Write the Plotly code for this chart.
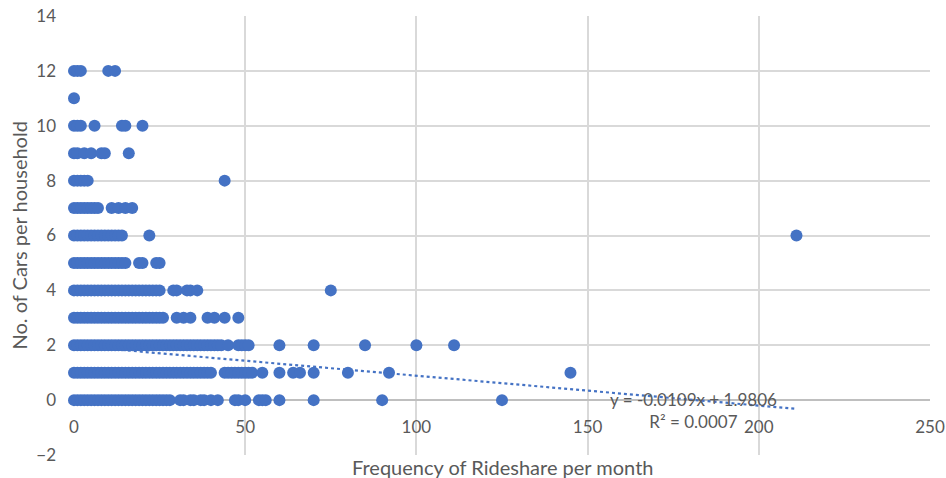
import plotly.graph_objects as go

# Number of cars per household (row value) and the rideshare frequencies seen on each row
cars = [0, 1, 2, 3, 4, 5, 6, 7, 8, 9, 10, 11, 12]

freq_0 = [0, 1, 2, 3, 4, 5, 6, 7, 8, 9, 10, 11, 12, 13, 14, 15, 16, 17, 18, 19, 20,
          21, 22, 23, 24, 25, 26, 27, 28, 31, 32, 34, 35, 37, 38, 40, 42, 47, 48, 50,
          54, 55, 56, 60, 70, 90, 125]
freq_1 = [0, 1, 2, 3, 4, 5, 6, 7, 8, 9, 10, 11, 12, 13, 14, 15, 16, 17, 18, 19, 20,
          21, 22, 23, 24, 25, 26, 27, 28, 29, 30, 31, 32, 33, 34, 35, 36, 37, 38, 39, 40,
          44, 45, 46, 47, 48, 49, 50, 51, 52, 55, 60, 64, 66, 70, 80, 92, 145]
freq_2 = [0, 1, 2, 3, 4, 5, 6, 7, 8, 9, 10, 11, 12, 13, 14, 15, 16, 17, 18, 19, 20,
          21, 22, 23, 24, 25, 26, 27, 28, 29, 30, 31, 32, 33, 34, 35, 36, 37, 38, 39, 40,
          41, 42, 43, 45, 48, 49, 50, 51, 60, 70, 85, 100, 111]
freq_3 = [0, 1, 2, 3, 4, 5, 6, 7, 8, 9, 10, 11, 12, 13, 14, 15, 16, 17, 18, 19, 20,
          21, 22, 23, 24, 25, 26, 30, 32, 34, 39, 41, 44, 48]
freq_4 = [0, 1, 2, 3, 4, 5, 6, 7, 8, 9, 10, 11, 12, 13, 14, 15, 16, 17, 18, 19, 20,
          21, 22, 23, 24, 25, 29, 30, 33, 34, 36, 75]
freq_5 = [0, 1, 2, 3, 4, 5, 6, 7, 8, 9, 10, 11, 12, 13, 14, 15, 19, 20, 24, 25]
freq_6 = [0, 1, 2, 3, 4, 5, 6, 7, 8, 9, 10, 11, 12, 13, 14, 22, 211]
freq_7 = [0, 1, 2, 3, 4, 5, 6, 7, 11, 13, 15, 17]
freq_8 = [0, 1, 2, 3, 4, 44]
freq_9 = [0, 1, 3, 5, 8, 9, 16]
freq_10 = [0, 1, 2, 6, 14, 15, 20]
freq_11 = [0]
freq_12 = [0, 1, 2, 10, 12]

rows = [freq_0, freq_1, freq_2, freq_3, freq_4, freq_5, freq_6,
        freq_7, freq_8, freq_9, freq_10, freq_11, freq_12]

# Linear trendline as reported on the chart
trend_slope = -0.0109
trend_intercept = 1.9806
trend_r2 = 0.0007

x_tick_vals = [0, 50, 100, 150, 200, 250]
y_tick_vals = [-2, 0, 2, 4, 6, 8, 10, 12, 14]

xs, ys = [], []
for c, row in zip(cars, rows):
    for f in row:
        xs.append(f)
        ys.append(c)

blue = "#4472C4"
grey_text = "#595959"
font_family = "Lato, 'Liberation Sans', sans-serif"

x_min, x_max = min(xs), max(xs)
trend_x = [x_min, x_max]
trend_y = [trend_slope * v + trend_intercept for v in trend_x]

fig = go.Figure()
fig.add_trace(go.Scatter(
    x=trend_x, y=trend_y, mode="lines",
    line=dict(color=blue, width=2.2, dash="dot"),
    hoverinfo="skip", showlegend=False, cliponaxis=False,
))
fig.add_trace(go.Scatter(
    x=xs, y=ys, mode="markers",
    marker=dict(color=blue, size=12, line=dict(width=0)),
    showlegend=False, cliponaxis=False,
))

W, H = 946, 478
ml, mr, mt, mb = 74, 16, 16, 23
plot_w = W - ml - mr
plot_h = H - mt - mb
y0_pos = (0 - (-2)) / (14 - (-2))

fig.update_layout(
    width=W, height=H,
    margin=dict(l=ml, r=mr, t=mt, b=mb, autoexpand=False),
    paper_bgcolor="white", plot_bgcolor="white",
    font=dict(family=font_family, color=grey_text, size=17),
    xaxis=dict(
        range=[0, 250], tickvals=x_tick_vals, showgrid=True,
        gridcolor="#D9D9D9", gridwidth=1.5, zeroline=False, showline=False,
        anchor="free", position=y0_pos, ticks="", ticklabelstandoff=15,
        tickfont=dict(size=17, color=grey_text), automargin=False,
        ticklabeloverflow="allow",
    ),
    yaxis=dict(
        range=[-2, 14], tickvals=y_tick_vals, showgrid=True,
        gridcolor="#D9D9D9", gridwidth=1.5, zeroline=True,
        zerolinecolor="#BFBFBF", zerolinewidth=1.5, showline=False,
        ticks="", ticklabelstandoff=17,
        tickfont=dict(size=17, color=grey_text), automargin=False,
        ticklabeloverflow="allow",
    ),
    annotations=[
        dict(text="Frequency of Rideshare per month", xref="paper", yref="paper",
             x=0.501, y=-12 / plot_h, xanchor="center", yanchor="middle",
             showarrow=False, font=dict(size=20, color=grey_text)),
        dict(text="No. of Cars per household", xref="paper", yref="paper",
             x=(18 - ml) / plot_w, y=0.5, xanchor="center", yanchor="middle",
             textangle=-90, showarrow=False, font=dict(size=20, color=grey_text)),
        dict(text=f"y = {trend_slope}x + {trend_intercept}<br>R² = {trend_r2}",
             xref="x", yref="y", x=181, y=-0.37, xanchor="center", yanchor="middle",
             align="center", showarrow=False, font=dict(size=17, color=grey_text)),
    ],
)

# the page body has a default 8px margin; remove it so the figure fills the window
fig.write_html("out.html", config={"displayModeBar": False},
               post_script="document.body.style.margin='0px';")
